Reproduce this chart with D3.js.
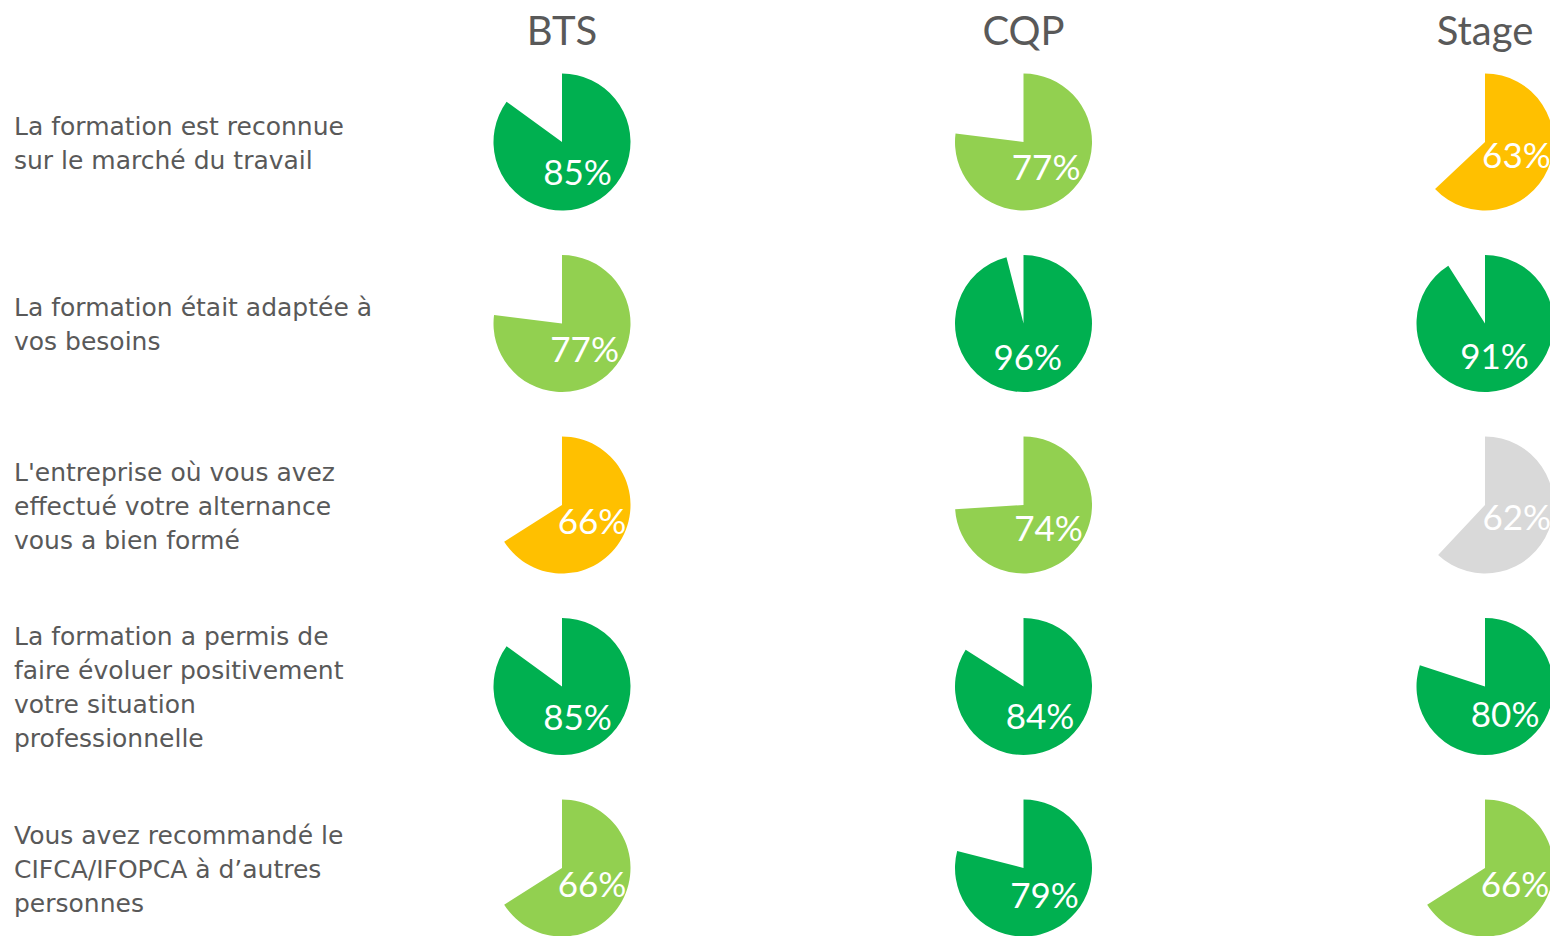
<!DOCTYPE html>
<html lang="fr">
<head>
<meta charset="UTF-8">
<title>Satisfaction formation</title>
<script src="https://d3js.org/d3.v7.min.js"></script>
<style>
  body { margin: 0; background: #fff; overflow: hidden; }
  svg { display: block; }
</style>
</head>
<body>
<script>
const width = 1550;
const height = 936;

const columns = ["BTS", "CQP", "Stage"];
const questions = [
  ["La formation est reconnue", "sur le marché du travail"],
  ["La formation était adaptée à", "vos besoins"],
  ["L'entreprise où vous avez", "effectué votre alternance", "vous a bien formé"],
  ["La formation a permis de", "faire évoluer positivement", "votre situation", "professionnelle"],
  ["Vous avez recommandé le", "CIFCA/IFOPCA à d\u2019autres", "personnes"]
];
// one row per question, one value per column (BTS, CQP, Stage)
const values = [
  [85, 77, 63],
  [77, 96, 91],
  [66, 74, 62],
  [85, 84, 80],
  [66, 79, 66]
];
const colors = [
  ["#00B050", "#92D050", "#FFC000"],
  ["#92D050", "#00B050", "#00B050"],
  ["#FFC000", "#92D050", "#D9D9D9"],
  ["#00B050", "#00B050", "#00B050"],
  ["#92D050", "#00B050", "#92D050"]
];

const svg = d3.select("body").append("svg")
  .attr("width", width)
  .attr("height", height);

const x = d3.scalePoint().domain(columns).range([562, 1485]);
const y = d3.scalePoint().domain(d3.range(questions.length)).range([142, 868]);
const r = 68.5;
const angle = d3.scaleLinear().domain([0, 100]).range([0, 2 * Math.PI]);
const arc = d3.arc().innerRadius(0).outerRadius(r);

// column titles
svg.selectAll(".col-title")
  .data(columns)
  .join("text")
  .attr("class", "col-title")
  .attr("x", d => x(d))
  .attr("y", 45)
  .attr("text-anchor", "middle")
  .attr("font-family", "Lato, 'Open Sans', sans-serif")
  .attr("font-size", 40)
  .attr("fill", "#595959")
  .text(d => d);

// row labels
const lineH = 34;
svg.selectAll(".row-label")
  .data(questions)
  .join("text")
  .attr("class", "row-label")
  .attr("font-family", "'DejaVu Sans', sans-serif")
  .attr("font-size", 25)
  .attr("fill", "#595959")
  .each(function (lines, i) {
    const top = y(i) + 1 - (lines.length - 1) * lineH / 2;
    d3.select(this).selectAll("tspan")
      .data(lines)
      .join("tspan")
      .attr("x", 14)
      .attr("y", (d, j) => top + j * lineH)
      .attr("dy", "0.35em")
      .text(d => d);
  });

// pies
const cells = [];
values.forEach((row, i) => row.forEach((v, j) => {
  cells.push({ row: i, col: columns[j], value: v, color: colors[i][j] });
}));

const cell = svg.selectAll(".cell")
  .data(cells)
  .join("g")
  .attr("class", "cell")
  .attr("transform", d => `translate(${x(d.col)},${y(d.row)})`);

cell.append("path")
  .attr("fill", d => d.color)
  .attr("d", d => arc({ startAngle: 0, endAngle: angle(d.value) }));

cell.append("text")
  .attr("transform", d => `translate(${arc.centroid({ startAngle: 0, endAngle: angle(d.value) })})`)
  .attr("text-anchor", "middle")
  .attr("dy", "0.36em")
  .attr("font-family", "Lato, 'Open Sans', sans-serif")
  .attr("font-size", 35)
  .attr("fill", "#fff")
  .text(d => d.value + "%");
</script>
</body>
</html>
